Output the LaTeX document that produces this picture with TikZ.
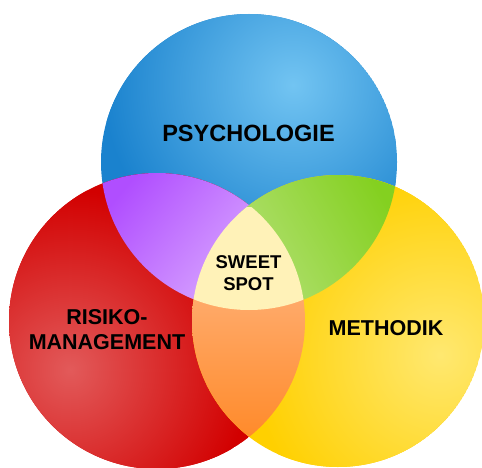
\documentclass[tikz,border=0pt]{standalone}
\usepackage{fontspec}
\newfontfamily\labfont{Liberation Sans}
\definecolor{bluebase}{HTML}{1A82CE}
\definecolor{bluelight}{HTML}{72C4F2}
\definecolor{redbase}{HTML}{D20000}
\definecolor{redlight}{HTML}{E25A5A}
\definecolor{yelbase}{HTML}{FFD000}
\definecolor{yellight}{HTML}{FFE870}
\definecolor{purdark}{HTML}{B04EFF}
\definecolor{purlight}{HTML}{DAAAFF}
\definecolor{grnlight}{HTML}{B2E072}
\definecolor{grndark}{HTML}{84D020}
\definecolor{orlight}{HTML}{FFAA6A}
\definecolor{ordark}{HTML}{FF8826}
\definecolor{sweet}{HTML}{FFF2B8}
\tikzset{
  biglabel/.style={font=\labfont\bfseries\fontsize{21.5}{25}\selectfont, align=center, text=black, inner sep=0pt},
  toplabel/.style={font=\labfont\bfseries\fontsize{23.5}{27}\selectfont, align=center, text=black, inner sep=0pt},
  smalllabel/.style={font=\labfont\bfseries\fontsize{18.5}{22}\selectfont, align=center, text=black, inner sep=0pt}
}
\begin{document}
\begin{tikzpicture}[x=1pt,y=1pt]
\useasboundingbox (0,0) rectangle (482,467);
\fill[white] (0,0) rectangle (482,467);
\coordinate (B) at (249,305);
\coordinate (R) at (157,146);
\coordinate (Y) at (338,146);
\def\rb{148}
\def\rr{148}
\def\ry{146}
% blue circle
\begin{scope}
  \clip (B) circle (\rb);
  \fill[bluebase] (B) circle (\rb);
  \shade[inner color=bluelight, outer color=bluebase] (293,382) circle (190);
\end{scope}
% red circle
\begin{scope}
  \clip (R) circle (\rr);
  \fill[redbase] (R) circle (\rr);
  \shade[inner color=redlight, outer color=redbase] (70,97) circle (180);
\end{scope}
% yellow circle
\begin{scope}
  \clip (Y) circle (\ry);
  \fill[yelbase] (Y) circle (\ry);
  \shade[inner color=yellight, outer color=yelbase] (440,112) circle (190);
\end{scope}
% purple lens (blue & red)
\begin{scope}
  \clip (B) circle (\rb);
  \clip (R) circle (\rr);
  \shade[top color=purdark, bottom color=purlight, shading angle=50] (100,150) rectangle (260,300);
\end{scope}
% green lens (blue & yellow)
\begin{scope}
  \clip (B) circle (\rb);
  \clip (Y) circle (\ry);
  \shade[top color=grndark, bottom color=grnlight, shading angle=-60] (240,150) rectangle (400,300);
\end{scope}
% orange lens (red & yellow)
\begin{scope}
  \clip (R) circle (\rr);
  \clip (Y) circle (\ry);
  \shade[top color=orlight, bottom color=ordark] (190,20) rectangle (310,170);
\end{scope}
% sweet spot
\begin{scope}
  \clip (B) circle (\rb);
  \clip (R) circle (\rr);
  \clip (Y) circle (\ry);
  \fill[sweet] (180,140) rectangle (320,260);
\end{scope}
\node[toplabel] (psy) at (248.5,334) {PSYCHOLOGIE};
\node[smalllabel] (ss) at (248.5,194) {SWEET\\SPOT};
\node[biglabel] (risk) at (107,137) {RISIKO-\\MANAGEMENT};
\node[biglabel] (meth) at (386,139) {METHODIK};
\end{tikzpicture}
\end{document}
